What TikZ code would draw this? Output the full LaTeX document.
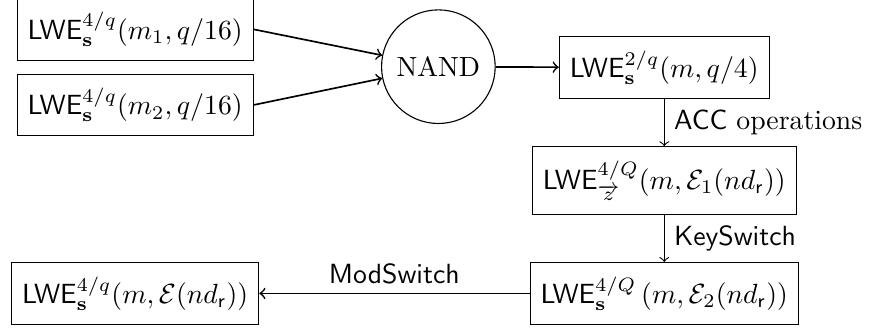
\documentclass[tikz,border=0pt]{standalone}
\usepackage{amsmath}
\usepackage{amsfonts}
\usepackage{amssymb}

\tikzset{
  lwebox/.style={draw,rectangle,inner xsep=3.8pt,inner ysep=5pt},
  gate/.style={circle,draw,minimum size=1.44cm,inner sep=1pt},
  flow/.style={->,semithick},
  vflow/.style={->}
}

\begin{document}
\begin{tikzpicture}
\useasboundingbox (0,0) rectangle (11.09,-4.157);
\node[lwebox] (in1) at (1.713,-0.372) {$\mathsf{LWE}_{\mathbf{s}}^{4/q}(m_1,q/16)$};
\node[lwebox] (in2) at (1.713,-1.330) {$\mathsf{LWE}_{\mathbf{s}}^{4/q}(m_2,q/16)$};
\node[gate] (nand) at (5.556,-0.845) {NAND};
\node[lwebox] (acc) at (8.419,-0.857) {$\mathsf{LWE}_{\mathbf{s}}^{2/q}(m,q/4)$};
\node[lwebox] (big) at (8.419,-2.288) {$\mathsf{LWE}_{\overrightarrow{z}}^{4/Q}(m,\mathcal{E}_1(nd_{\mathsf{r}}))$};
\node[lwebox] (ks) at (8.419,-3.719) {$\mathsf{LWE}_{\mathbf{s}}^{4/Q}\,(m,\mathcal{E}_2(nd_{\mathsf{r}}))$};
\node[lwebox] (out) at (1.713,-3.719) {$\mathsf{LWE}_{\mathbf{s}}^{4/q}(m,\mathcal{E}(nd_{\mathsf{r}}))$};
\path[flow](in1.east) edge node {} (nand);
\path[flow](in2.east) edge node {} (nand);
\path[flow](nand) edge node {} (acc);
\path[vflow](acc) edge node[right] {$\mathsf{ACC}$ operations} (big);
\path[vflow](big) edge node[right] {$\mathsf{KeySwitch}$} (ks);
\path[flow](ks) edge node[above] {$\mathsf{ModSwitch}$} (out);
\end{tikzpicture}
\end{document}
